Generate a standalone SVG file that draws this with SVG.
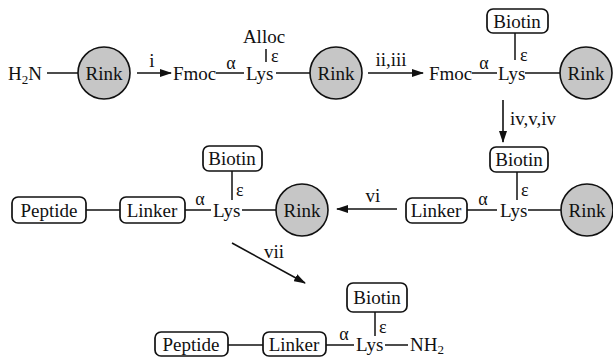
<svg xmlns="http://www.w3.org/2000/svg" width="613" height="357" viewBox="0 0 613 357">
  <style>
    text { font-family: "Liberation Serif", "Times New Roman", "DejaVu Serif", serif; font-size: 19px; fill: #111; }
    .c { text-anchor: middle; }
    .sub { font-size: 13px; }
    .greek { font-size: 18px; }
    .bead { fill: #c6c6c6; stroke: #111; stroke-width: 1.6; }
    .box { fill: #fff; stroke: #111; stroke-width: 1.7; }
    .bond { stroke: #111; stroke-width: 1.5; fill: none; }
    .arrow { stroke: #111; stroke-width: 1.6; fill: none; marker-end: url(#head); }
  </style>
  <defs>
    <marker id="head" viewBox="0 0 12 8" refX="11" refY="4" markerWidth="12" markerHeight="8" markerUnits="userSpaceOnUse" orient="auto">
      <path d="M0,0 L12,4 L0,8 Z" fill="#111"/>
    </marker>
  </defs>

  <!-- bonds and reaction arrows -->
  <g id="connectors">
    <!-- row 1 -->
    <line class="bond" x1="47" y1="73" x2="78" y2="73"/>
    <line class="arrow" x1="137" y1="73" x2="171" y2="73"/>
    <line class="bond" x1="216" y1="73" x2="244" y2="73"/>
    <line class="bond" x1="266" y1="49" x2="266" y2="62"/>
    <line class="bond" x1="276" y1="73" x2="310" y2="73"/>
    <line class="arrow" x1="368" y1="73" x2="423" y2="73"/>
    <line class="bond" x1="472" y1="73" x2="497" y2="73"/>
    <line class="bond" x1="515" y1="33" x2="515" y2="60"/>
    <line class="bond" x1="525" y1="73" x2="560" y2="73"/>
    <line class="arrow" x1="503" y1="100" x2="503" y2="142"/>
    <!-- row 2, right -->
    <line class="bond" x1="517" y1="172" x2="517" y2="200"/>
    <line class="bond" x1="467" y1="210" x2="497" y2="210"/>
    <line class="bond" x1="528" y1="210" x2="561" y2="210"/>
    <line class="arrow" x1="397" y1="209" x2="337" y2="209"/>
    <!-- row 2, left -->
    <line class="bond" x1="86" y1="210" x2="120" y2="210"/>
    <line class="bond" x1="185" y1="210" x2="211" y2="210"/>
    <line class="bond" x1="232" y1="171" x2="232" y2="200"/>
    <line class="bond" x1="242" y1="210" x2="276" y2="210"/>
    <line class="arrow" x1="232" y1="243" x2="305" y2="283"/>
    <!-- row 3 -->
    <line class="bond" x1="228" y1="345" x2="263" y2="345"/>
    <line class="bond" x1="326" y1="345" x2="354" y2="345"/>
    <line class="bond" x1="375" y1="312" x2="375" y2="336"/>
    <line class="bond" x1="385" y1="345" x2="408" y2="345"/>
  </g>

  <!-- reagent labels -->
  <g id="labels">
    <text class="c" x="152" y="67">i</text>
    <text class="c" x="391" y="66">ii,iii</text>
    <text x="510" y="125">iv,v,iv</text>
    <text class="c" x="373" y="202">vi</text>
    <text class="c" x="274" y="258">vii</text>
  </g>

  <!-- row 1: H2N-Rink -->
  <g id="h2n-rink">
    <text x="8" y="80">H<tspan class="sub" dy="4">2</tspan><tspan dy="-4">N</tspan></text>
    <circle class="bead" cx="104" cy="73" r="26"/>
    <text class="c" x="104" y="80">Rink</text>
  </g>

  <!-- row 1: Fmoc-Lys(Alloc)-Rink -->
  <g id="fmoc-lys-alloc">
    <text x="173" y="80">Fmoc</text>
    <text class="c greek" x="231" y="69">α</text>
    <text x="246" y="80">Lys</text>
    <text class="c" x="264" y="43">Alloc</text>
    <text class="greek" x="271" y="62">ε</text>
    <circle class="bead" cx="336" cy="73" r="26"/>
    <text class="c" x="336" y="80">Rink</text>
  </g>

  <!-- row 1: Fmoc-Lys(Biotin)-Rink -->
  <g id="fmoc-lys-biotin">
    <text x="429" y="80">Fmoc</text>
    <text class="c greek" x="484" y="69">α</text>
    <text x="498" y="80">Lys</text>
    <rect class="box" x="487" y="9" width="61" height="24" rx="6"/>
    <text class="c" x="517" y="28">Biotin</text>
    <text class="greek" x="520" y="61">ε</text>
    <circle class="bead" cx="586" cy="73" r="26"/>
    <text class="c" x="586" y="80">Rink</text>
  </g>

  <!-- row 2: Linker-Lys(Biotin)-Rink -->
  <g id="linker-lys-biotin">
    <rect class="box" x="406" y="198" width="61" height="25" rx="6"/>
    <text class="c" x="436" y="217">Linker</text>
    <text class="c greek" x="483" y="205">α</text>
    <text x="500" y="217">Lys</text>
    <rect class="box" x="490" y="147" width="58" height="25" rx="6"/>
    <text class="c" x="519" y="166">Biotin</text>
    <text class="greek" x="521" y="196">ε</text>
    <circle class="bead" cx="587" cy="210" r="26"/>
    <text class="c" x="587" y="217">Rink</text>
  </g>

  <!-- row 2: Peptide-Linker-Lys(Biotin)-Rink -->
  <g id="peptide-linker-lys-rink">
    <rect class="box" x="12" y="197" width="74" height="26" rx="6"/>
    <text class="c" x="49" y="217">Peptide</text>
    <rect class="box" x="120" y="197" width="65" height="26" rx="6"/>
    <text class="c" x="152" y="217">Linker</text>
    <text class="c greek" x="200" y="205">α</text>
    <text x="213" y="217">Lys</text>
    <rect class="box" x="203" y="146" width="59" height="25" rx="6"/>
    <text class="c" x="232" y="165">Biotin</text>
    <text class="greek" x="236" y="196">ε</text>
    <circle class="bead" cx="302" cy="210" r="26"/>
    <text class="c" x="302" y="217">Rink</text>
  </g>

  <!-- row 3: cleaved product -->
  <g id="product">
    <rect class="box" x="155" y="332" width="73" height="24" rx="6"/>
    <text class="c" x="191" y="351">Peptide</text>
    <rect class="box" x="263" y="332" width="63" height="24" rx="6"/>
    <text class="c" x="294" y="351">Linker</text>
    <text class="c greek" x="344" y="340">α</text>
    <text x="356" y="351">Lys</text>
    <rect class="box" x="347" y="283" width="60" height="29" rx="6"/>
    <text class="c" x="377" y="304">Biotin</text>
    <text class="greek" x="379" y="333">ε</text>
    <text x="410" y="351">NH<tspan class="sub" dy="3">2</tspan></text>
  </g>
</svg>
